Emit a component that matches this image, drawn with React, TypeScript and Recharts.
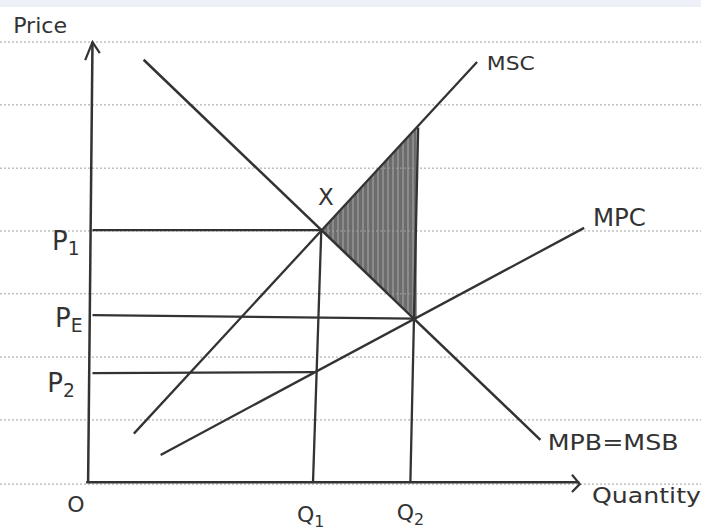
import {
  ComposedChart,
  Line,
  Area,
  Scatter,
  XAxis,
  YAxis,
  ReferenceLine,
  ReferenceArea,
} from 'recharts';

// Curves, in (quantity, price) units; origin of the hand-drawn axes is (0, 0)
const demand = [{ q: 1.05, p: 9.55 }, { q: 9.2, p: 0.96 }]; // MPB = MSB
const msc = [{ q: 0.85, p: 1.1 }, { q: 7.9, p: 9.5 }];
const mpc = [{ q: 1.4, p: 0.62 }, { q: 10.1, p: 5.75 }];

// Price / quantity drop lines (hand drawn, slightly slanted)
const p1Line = [{ q: 0, p: 5.7 }, { q: 4.7, p: 5.7 }];
const peLine = [{ q: 0, p: 3.78 }, { q: 6.6, p: 3.7 }];
const p2Line = [{ q: 0, p: 2.47 }, { q: 4.55, p: 2.49 }];
const q1Line = [{ q: 4.7, p: 5.7 }, { q: 4.53, p: 0 }];
const q2Line = [{ q: 6.69, p: 8.02 }, { q: 6.53, p: 0 }];

// Deadweight-loss triangle between MSC and MPB from Q1 to Q2
const shade = [
  { q: 4.7, lo: 5.7, hi: 5.7 },
  { q: 6.66, lo: 3.68, hi: 8.02 },
];

// Axes with arrowheads
const yAxisLine = [{ q: -0.09, p: 0 }, { q: 0, p: 9.95 }];
const yArrow = [{ q: -0.15, p: 9.54 }, { q: 0, p: 9.95 }, { q: 0.15, p: 9.7 }];
const xAxisLine = [{ q: -0.13, p: 0 }, { q: 10.0, p: 0 }];
const xArrow = [{ q: 9.85, p: 0.17 }, { q: 10.01, p: -0.04 }, { q: 9.85, p: -0.22 }];

// Ruled notebook lines
const rulings = [9.95, 8.53, 7.1, 5.68, 4.26, 2.83, 1.41, -0.04];

// Text labels
const annotations = [
  { q: -1.63, p: 10.15, text: 'Price', size: 22, len: 54 },
  { q: 8.1, p: 9.32, text: 'MSC', size: 20, len: 48 },
  { q: 10.28, p: 5.79, text: 'MPC', size: 25, len: 53 },
  { q: 9.35, p: 0.73, text: 'MPB=MSB', size: 22, len: 131 },
  { q: 10.26, p: -0.47, text: 'Quantity', size: 22, len: 109 },
  { q: -0.52, p: -0.67, text: 'O', size: 22 },
  { q: 4.2, p: -0.9, text: 'Q', sub: '1', size: 22 },
  { q: 6.25, p: -0.85, text: 'Q', sub: '2', size: 22 },
  { q: -0.83, p: 5.25, text: 'P', sub: '1', size: 26 },
  { q: -0.77, p: 3.51, text: 'P', sub: 'E', size: 26 },
  { q: -0.93, p: 2.04, text: 'P', sub: '2', size: 26 },
  { q: 4.63, p: 6.27, text: 'X', size: 23 },
];

const INK = '#333333';
const FONT = '"DejaVu Sans", sans-serif';

function Annotation(props: any) {
  const { cx, cy, payload } = props;
  return (
    <text
      x={cx}
      y={cy}
      fill={INK}
      fontFamily={FONT}
      fontSize={payload.size}
      textLength={payload.len}
      lengthAdjust={payload.len ? 'spacingAndGlyphs' : undefined}
    >
      {payload.text}
      {payload.sub && (
        <tspan dy={5} fontSize={payload.size * 0.72}>
          {payload.sub}
        </tspan>
      )}
    </text>
  );
}

function ink(data: { q: number; p: number }[], width = 2.3) {
  return (
    <Line
      data={data}
      dataKey="p"
      stroke={INK}
      strokeWidth={width}
      dot={false}
      activeDot={false}
      isAnimationActive={false}
      type="linear"
    />
  );
}

export default function App() {
  return (
    <div style={{ width: 701, height: 531, background: '#fff' }}>
      <style>{'body{margin:0}'}</style>
      <ComposedChart width={701} height={531} margin={{ top: 0, right: 0, bottom: 0, left: 0 }}>
        <defs>
          <pattern id="hatch" width="5" height="8" patternUnits="userSpaceOnUse">
            <rect width="5" height="8" fill="#6c6c6c" />
            <line x1="3" y1="0" x2="3" y2="8" stroke="#a0a0a0" strokeWidth="1.2" />
          </pattern>
        </defs>
        <XAxis type="number" dataKey="q" domain={[-1.9, 12.5]} hide allowDataOverflow />
        <YAxis type="number" domain={[-1.1, 10.9]} hide allowDataOverflow />
        <ReferenceArea x1={-1.9} x2={12.5} y1={10.74} y2={10.9} fill="#edf1f7" fillOpacity={1} stroke="none" />
        {rulings.map((y) => (
          <ReferenceLine key={y} y={y} stroke="#a0a0a0" strokeDasharray="2 2" strokeWidth={1} />
        ))}
        <Area
          data={shade}
          dataKey={(d: any) => [d.lo, d.hi]}
          stroke="none"
          fill="url(#hatch)"
          fillOpacity={1}
          type="linear"
          isAnimationActive={false}
          dot={false}
          activeDot={false}
        />
        {ink(yAxisLine, 2.5)}
        {ink(yArrow, 2.2)}
        {ink(xAxisLine, 2.5)}
        {ink(xArrow, 2.2)}
        {ink(p1Line)}
        {ink(peLine)}
        {ink(p2Line)}
        {ink(q1Line)}
        {ink(q2Line)}
        {ink(demand, 2.5)}
        {ink(msc, 2.3)}
        {ink(mpc, 2.3)}
        <Scatter data={annotations} dataKey="p" shape={Annotation} isAnimationActive={false} />
      </ComposedChart>
    </div>
  );
}
